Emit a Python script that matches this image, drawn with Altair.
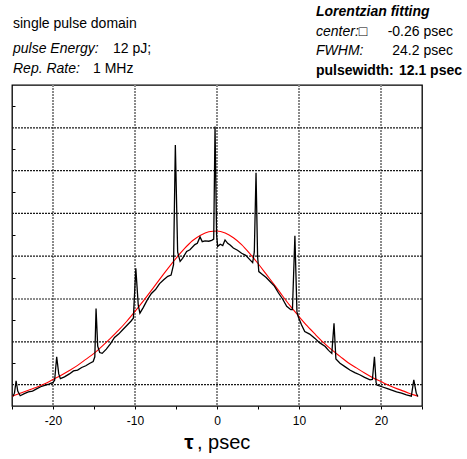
import altair as alt
import pandas as pd

# measured autocorrelation trace (tau in psec, signal in arbitrary units)
tau = [-24.9, -24.7, -24.5, -24.3, -24.0, -23.5, -23.0, -22.5, -22.0, -21.5, -21.0, -20.5,
       -20.0, -19.8, -19.55, -19.3, -19.1, -18.6, -18.0, -17.5, -17.0, -16.5, -16.0, -15.5,
       -15.1, -14.9, -14.75, -14.55, -14.3, -14.0, -13.5, -13.0, -12.5, -12.0, -11.5, -11.0,
       -10.5, -10.2, -9.9, -9.6, -9.4, -9.0, -8.5, -8.0, -7.5, -7.0, -6.5, -6.0,
       -5.6, -5.3, -5.08, -4.8, -4.5, -4.2, -3.7, -3.3, -2.7, -2.4, -2.07, -1.8,
       -1.46, -1.0, -0.65, -0.4, -0.24, -0.05, 0.08, 0.4, 0.7, 0.98, 1.3, 1.6,
       1.99, 2.5, 3.0, 3.5, 4.0, 4.35, 4.55, 4.76, 4.95, 5.1, 5.5, 6.0,
       6.26, 7.0, 7.5, 8.0, 8.5, 9.0, 9.2, 9.5, 9.75, 9.9, 10.3, 10.7,
       11.3, 11.95, 12.5, 13.2, 13.6, 14.0, 14.27, 14.5, 15.0, 15.6, 16.2, 16.8,
       17.4, 18.0, 18.66, 18.95, 19.2, 19.4, 19.5, 20.1, 20.7, 21.3, 21.9, 22.5,
       23.1, 23.7, 24.0, 24.3, 24.5]
signal = [0.22, 0.30, 0.59, 0.35, 0.24, 0.29, 0.33, 0.35, 0.40, 0.45, 0.48, 0.51,
          0.55, 0.60, 1.15, 0.75, 0.64, 0.68, 0.75, 0.82, 0.84, 0.90, 0.94, 1.00,
          1.04, 1.15, 2.28, 1.40, 1.25, 1.23, 1.33, 1.45, 1.60, 1.68, 1.78, 1.88,
          1.98, 2.05, 3.22, 2.35, 2.17, 2.30, 2.48, 2.63, 2.72, 2.86, 2.95, 3.03,
          3.06, 3.30, 6.10, 3.60, 3.38, 3.45, 3.61, 3.65, 3.77, 3.80, 3.95, 3.84,
          3.86, 3.85, 3.87, 3.90, 6.53, 4.00, 3.73, 3.78, 3.75, 3.88, 3.80, 3.76,
          3.69, 3.64, 3.57, 3.52, 3.42, 3.35, 3.60, 5.45, 3.50, 3.14, 3.08, 3.00,
          2.95, 2.80, 2.64, 2.50, 2.33, 2.25, 2.25, 3.98, 2.20, 2.09, 1.90, 1.74,
          1.68, 1.58, 1.48, 1.39, 1.30, 1.23, 1.93, 1.10, 1.00, 0.92, 0.84, 0.78,
          0.73, 0.67, 0.61, 0.62, 1.15, 0.55, 0.49, 0.45, 0.41, 0.37, 0.33, 0.30,
          0.26, 0.23, 0.61, 0.30, 0.22]

# Lorentzian fit curve
fit_tau = [-25, -24, -23, -22, -21, -20, -19, -18, -17, -16, -15, -14, -13, -12, -11, -10,
           -9, -8, -7, -6, -5, -4, -3, -2, -1, 0, 1, 2, 3, 4, 5, 6, 7, 8, 9, 10,
           11, 12, 13, 14, 15, 16, 17, 18, 19, 20, 21, 22, 23, 24, 24.5]
fit_val = [0.23, 0.30, 0.37, 0.44, 0.52, 0.62, 0.72, 0.83, 0.95, 1.09, 1.23, 1.40, 1.58, 1.77, 1.98, 2.21,
           2.45, 2.70, 2.96, 3.21, 3.45, 3.67, 3.86, 3.99, 4.07, 4.09, 4.04, 3.93, 3.77, 3.56, 3.33, 3.08,
           2.83, 2.57, 2.32, 2.09, 1.87, 1.67, 1.48, 1.31, 1.16, 1.01, 0.89, 0.77, 0.66, 0.57, 0.48, 0.40,
           0.33, 0.26, 0.23]

x_tick_values = [-25, -20, -15, -10, -5, 0, 5, 10, 15, 20, 25]
x_grid = [-20, -10, 0, 10, 20]
y_grid = [0.5, 1.5, 2.5, 3.5, 4.5, 5.5, 6.5]
y_ticks = [1, 2, 3, 4, 5, 6, 7]

left_notes = ["single pulse domain", "pulse Energy:", "12 pJ;", "Rep. Rate:", "1 MHz"]
right_notes = ["Lorentzian fitting", "center:\u25a1", "-0.26 psec", "FWHM:", "24.2 psec",
               "pulsewidth:", "12.1 psec"]
x_title = ["\u03c4", ", psec"]

FONT = "Liberation Sans"
W, H = 410, 321

xscale = alt.Scale(domain=[-25, 25], nice=False, zero=False)
yscale = alt.Scale(domain=[0, 7.5], nice=False, zero=False)

xaxis = alt.Axis(values=x_tick_values,
                 labelExpr="datum.value % 10 === 0 ? '' + datum.value : ''",
                 grid=False, domain=False, tickSize=3, tickColor="black",
                 tickWidth=1, labelFont=FONT, labelFontSize=12, labelColor="black",
                 labelPadding=6, labelOverlap=False, title=None)
yaxis = alt.Axis(values=y_ticks, labels=False, grid=False, domain=False,
                 tickSize=3, offset=-3, tickColor="black", tickWidth=1, title=None)

df = pd.DataFrame({"tau": tau, "v": signal})
dfit = pd.DataFrame({"tau": fit_tau, "v": fit_val})

X = alt.X("tau:Q", scale=xscale, axis=xaxis)
Y = alt.Y("v:Q", scale=yscale, axis=yaxis)

vgrid = alt.Chart(pd.DataFrame({"tau": x_grid})).mark_rule(
    color="#8a8a8a", strokeWidth=2, strokeDash=[2, 1]
).encode(x=X)

hgrid = alt.Chart(pd.DataFrame({"v": y_grid})).mark_rule(
    color="#1a1a1a", strokeWidth=1.2, strokeDash=[2, 1]
).encode(y=Y)

fit_line = alt.Chart(dfit).mark_line(color="#ff0000", strokeWidth=1.1, interpolate="monotone").encode(
    x=X, y=Y
)

data_line = alt.Chart(df).mark_line(color="black", strokeWidth=1.3).encode(x=X, y=Y)


def note(s, x, y, size=14, weight="normal", style="normal", align="left"):
    return alt.Chart(pd.DataFrame({"t": [s]})).mark_text(
        align=align, baseline="alphabetic", font=FONT, fontSize=size,
        fontWeight=weight, fontStyle=style, color="black"
    ).encode(text="t:N", x=alt.value(x), y=alt.value(y))


texts = [
    note(left_notes[0], 1, -57),
    note(left_notes[1], 1, -32, style="italic"),
    note(left_notes[2], 101, -32),
    note(left_notes[3], 1, -12.5, style="italic"),
    note(left_notes[4], 81, -12.5),
    note(right_notes[0], 304, -69, weight="bold", style="italic"),
    note(right_notes[1], 304, -49, style="italic"),
    note(right_notes[2], 441, -49, align="right"),
    note(right_notes[3], 304, -30.5, style="italic"),
    note(right_notes[4], 441, -30.5, align="right"),
    note(right_notes[5], 304, -10, weight="bold"),
    note(right_notes[6], 450, -10, weight="bold", align="right"),
    note(x_title[0], 177, 364, size=21, weight="bold", align="center"),
    note(x_title[1], 185, 364, size=20),
]

chart = alt.layer(vgrid, hgrid, fit_line, data_line, *texts).properties(
    width=W, height=H,
    background="white",
    autosize=alt.AutoSizeParams(type="none"),
    padding={"left": 12, "top": 85, "right": 45, "bottom": 53},
).configure_view(stroke="black", strokeWidth=1.3)

chart.save("out.html", embed_options={"renderer": "svg", "actions": False})
